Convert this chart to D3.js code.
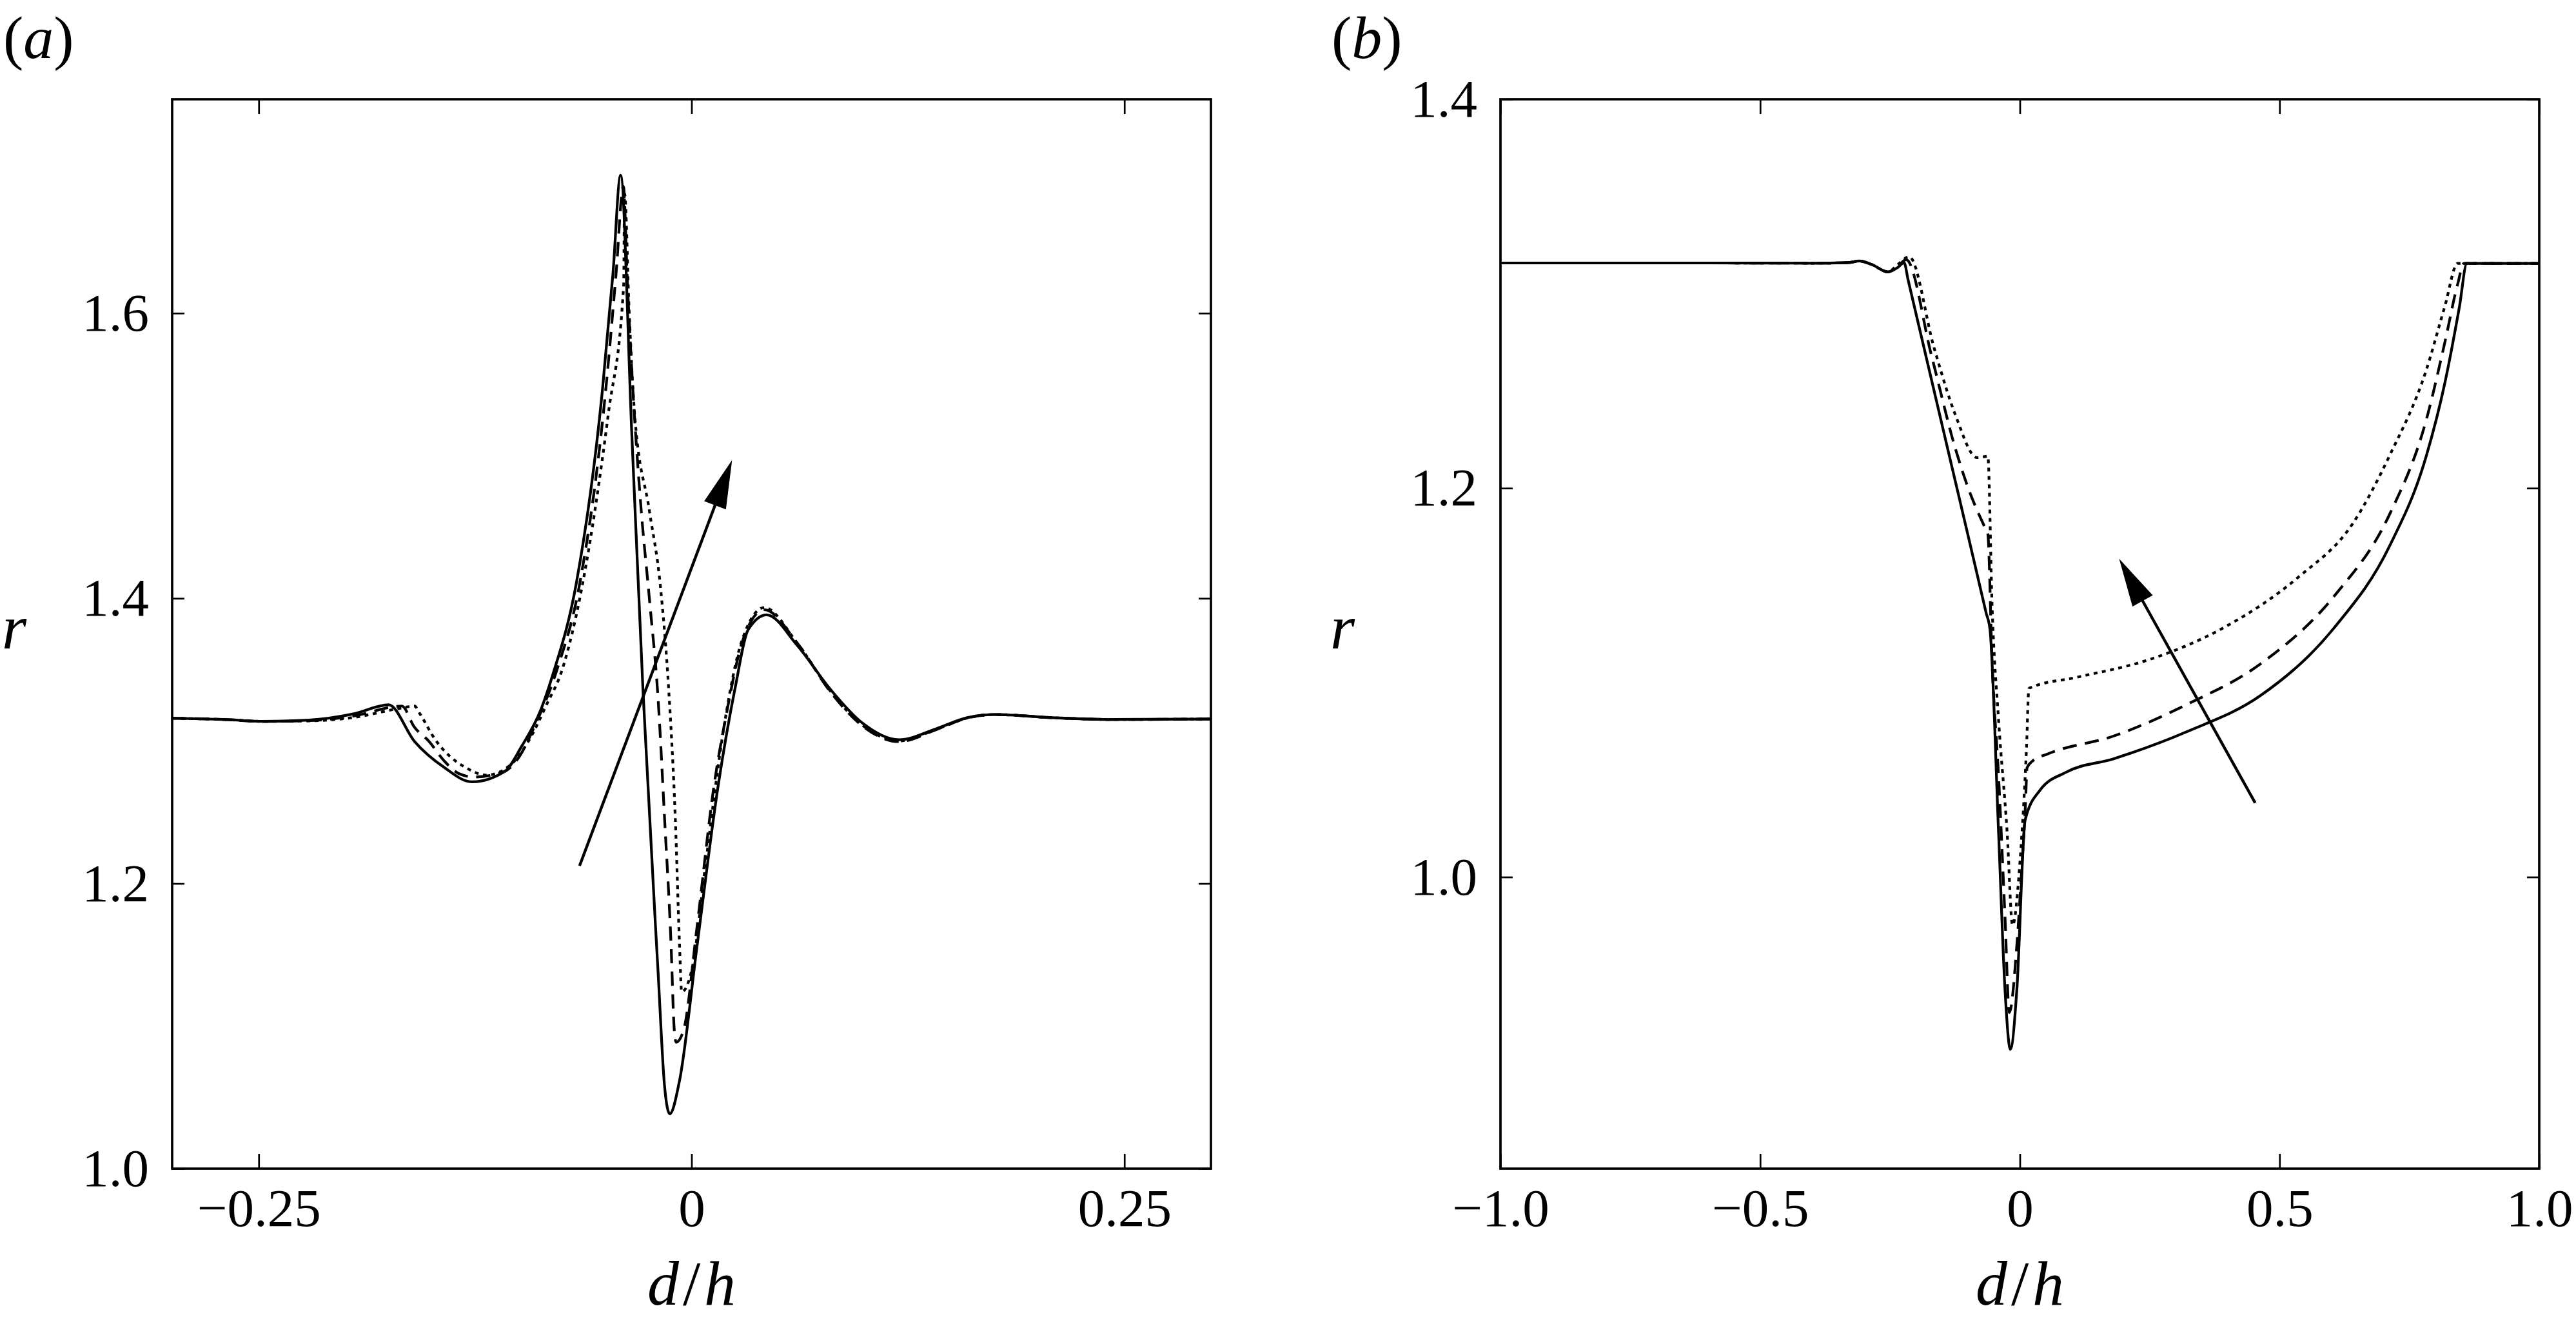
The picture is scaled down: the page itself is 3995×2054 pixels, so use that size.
<!DOCTYPE html>
<html lang="en">
<head>
<meta charset="utf-8">
<title>r against d/h</title>
<script src="https://cdn.jsdelivr.net/npm/d3@7"></script>
<style>
  body { margin: 0; background: #fff; }
</style>
</head>
<body>
<div id="chart"></div>
<script>
// ---- panel (a) ----
const aTicksX = [-0.25, 0, 0.25];
const aTicksY = [1.0, 1.2, 1.4, 1.6];

const aSolidX = [-0.300, -0.270, -0.247, -0.221, -0.195, -0.175, -0.160, -0.143, -0.127, -0.108, -0.098, -0.087, -0.080,
  -0.0665, -0.0516, -0.0454, -0.0410, -0.0345, -0.0280, -0.0193, -0.0156, -0.0126, -0.0069, 0.0030, 0.0153, 0.0253,
  0.0327, 0.0434, 0.0608, 0.0805, 0.0982, 0.1198, 0.1415, 0.1592, 0.175, 0.2085, 0.2439, 0.300];
const aSolidR = [1.3159, 1.3150, 1.3137, 1.3146, 1.3190, 1.3253, 1.2996, 1.2815, 1.2713, 1.2785, 1.2965, 1.3220, 1.3470,
  1.4110, 1.5445, 1.6277, 1.6967, 1.5150, 1.3340, 1.1370, 1.0580, 1.0384, 1.0620, 1.1545, 1.2680, 1.3380,
  1.3780, 1.3884, 1.3674, 1.3357, 1.3130, 1.3008, 1.3086, 1.3163, 1.3185, 1.3163, 1.3150, 1.3154];

const aDashX = [-0.300, -0.270, -0.247, -0.221, -0.195, -0.1673, -0.1603, -0.1516, -0.1429, -0.1343, -0.1256, -0.1082,
  -0.0995, -0.0908, -0.0780, -0.0645, -0.0497, -0.0436, -0.0394, -0.0370, -0.0342, -0.0293, -0.0243, -0.0193, -0.0156,
  -0.0119, -0.0100, -0.0089, -0.0045, 0.0030, 0.0129, 0.0200, 0.0300, 0.0420, 0.0608, 0.0805, 0.0982, 0.1198, 0.1415,
  0.1592, 0.175, 0.2085, 0.2439, 0.300];
const aDashR = [1.3159, 1.3150, 1.3137, 1.3142, 1.3175, 1.3244, 1.3100, 1.2996, 1.2860, 1.2770, 1.2747, 1.2785,
  1.2890, 1.3100, 1.3490, 1.4110, 1.5445, 1.6277, 1.6890, 1.6200, 1.5530, 1.4650, 1.3990, 1.3290, 1.2460,
  1.1590, 1.0976, 1.0886, 1.0976, 1.1680, 1.2680, 1.3180, 1.3720, 1.3920, 1.3690, 1.3340, 1.3110, 1.2995, 1.3080,
  1.3160, 1.3185, 1.3163, 1.3150, 1.3154];

const aDotX = [-0.300, -0.270, -0.247, -0.221, -0.195, -0.170, -0.1600, -0.1569, -0.1481, -0.1394, -0.1307, -0.1186,
  -0.1047, -0.0943, -0.0838, -0.0750, -0.0628, -0.0480, -0.0392, -0.0387, -0.0360, -0.0330, -0.0243, -0.0180, -0.0131,
  -0.0094, -0.0070, -0.0057, 0.0005, 0.0079, 0.0190, 0.0290, 0.0420, 0.0608, 0.0805, 0.0982, 0.1198, 0.1415, 0.1592,
  0.175, 0.2085, 0.2439, 0.300];
const aDotR = [1.3159, 1.3150, 1.3137, 1.3140, 1.3165, 1.3225, 1.3244, 1.3190, 1.3010, 1.2890, 1.2815, 1.2760,
  1.2830, 1.2996, 1.3253, 1.3490, 1.4110, 1.5300, 1.6200, 1.6840, 1.6000, 1.5310, 1.4610, 1.4085, 1.3340,
  1.2460, 1.1590, 1.1240, 1.1415, 1.2115, 1.3120, 1.3700, 1.3935, 1.3690, 1.3345, 1.3115, 1.3000, 1.3082, 1.3160,
  1.3185, 1.3163, 1.3150, 1.3154];

const aArrow = [[-0.0647, 1.2124], [0.0234, 1.497]];

// ---- panel (b) ----
const bTicksX = [-1.0, -0.5, 0, 0.5, 1.0];
const bTicksY = [1.0, 1.2, 1.4];

const bSolidX = [-1.000, -0.600, -0.400, -0.330, -0.309, -0.285, -0.254, -0.235, -0.223, -0.215, -0.140, -0.100,
  -0.065, -0.0575, -0.041, -0.0286, -0.0182, -0.0058, 0.0103, 0.0387, 0.0883, 0.1804, 0.3222, 0.4638, 0.6056, 0.7118,
  0.7827, 0.8181, 0.8464, 0.8607, 1.000];
const bSolidR = [1.3158, 1.3158, 1.3157, 1.3160, 1.3168, 1.3150, 1.3112, 1.3135, 1.3160, 1.3069, 1.2214, 1.1760,
  1.1359, 1.1273, 1.0230, 0.9420, 0.9114, 0.9420, 1.0294, 1.0446, 1.0538, 1.0608, 1.0748, 1.0934, 1.1283, 1.1702,
  1.2167, 1.2539, 1.2934, 1.3156, 1.3156];

const bDashX = [-1.000, -0.600, -0.400, -0.330, -0.309, -0.285, -0.254, -0.235, -0.219, -0.170, -0.1238, -0.0990,
  -0.066, -0.0617, -0.0534, -0.0410, -0.0286, -0.0203, -0.0058, 0.0046, 0.0108, 0.0139, 0.0245, 0.0529, 0.1804,
  0.3222, 0.4638, 0.6056, 0.7118, 0.7827, 0.8181, 0.8430, 0.8550, 1.000];
const bDashR = [1.3158, 1.3158, 1.3157, 1.3160, 1.3168, 1.3150, 1.3112, 1.3140, 1.3175, 1.2680, 1.2200, 1.1997,
  1.1790, 1.1765, 1.1098, 1.0520, 0.9796, 0.9303, 0.9650, 1.0085, 1.0375, 1.0562, 1.0597, 1.0632, 1.0725,
  1.0888, 1.1097, 1.1446, 1.1865, 1.2353, 1.2748, 1.3050, 1.3156, 1.3156];

const bDotX = [-1.000, -0.600, -0.400, -0.330, -0.309, -0.285, -0.254, -0.235, -0.213, -0.165, -0.1238, -0.0823,
  -0.066, -0.0617, -0.0534, -0.0410, -0.0245, -0.0140, 0.0004, 0.0128, 0.0174, 0.0220, 0.1095, 0.2513, 0.3929,
  0.5347, 0.6410, 0.7118, 0.7827, 0.8181, 0.8430, 1.000];
const bDotR = [1.3158, 1.3158, 1.3157, 1.3160, 1.3168, 1.3150, 1.3112, 1.3150, 1.3190, 1.2720, 1.2374, 1.2157,
  1.2163, 1.2165, 1.1389, 1.0809, 1.0230, 0.9752, 1.0085, 1.0665, 1.0969, 1.0975, 1.1027, 1.1120, 1.1283,
  1.1539, 1.1818, 1.2167, 1.2609, 1.2934, 1.3156, 1.3156];

const bArrow = [[0.4531, 1.0381], [0.1911, 1.1637]];

const W = 3995, H = 2054;
const FONT = "'Liberation Serif', 'Times New Roman', serif";

const svg = d3.select("#chart").append("svg")
  .attr("width", W).attr("height", H)
  .style("background", "#fff");

function zip(xs, rs) { return xs.map((d, i) => [d, rs[i]]); }

function drawPanel(p) {
  const x = d3.scaleLinear().domain(p.xDomain).range([p.left, p.right]);
  const y = d3.scaleLinear().domain(p.yDomain).range([p.bottom, p.top]);
  const g = svg.append("g");
  const fmt = d => d === 0 ? "0" : d3.format(p.xFmt)(d);

  // curves
  const line = d3.line().x(d => x(d[0])).y(d => y(d[1])).curve(d3.curveMonotoneX);
  p.series.forEach(s => {
    g.append("path")
      .datum(zip(s.x, s.r))
      .attr("d", line)
      .attr("fill", "none")
      .attr("stroke", "#000")
      .attr("stroke-width", 4.2)
      .attr("stroke-dasharray", s.dash);
  });

  // arrow
  const [x0, y0] = [x(p.arrow[0][0]), y(p.arrow[0][1])];
  const [x1, y1] = [x(p.arrow[1][0]), y(p.arrow[1][1])];
  const len = Math.hypot(x1 - x0, y1 - y0), ux = (x1 - x0) / len, uy = (y1 - y0) / len;
  const headL = 75, headW = 18;
  const bx = x1 - ux * headL, by = y1 - uy * headL;
  g.append("line")
    .attr("x1", x0).attr("y1", y0)
    .attr("x2", bx + ux * 8).attr("y2", by + uy * 8)
    .attr("stroke", "#000").attr("stroke-width", 4.4);
  g.append("path")
    .attr("d", `M${x1},${y1}L${bx - uy * headW},${by + ux * headW}L${bx + uy * headW},${by - ux * headW}Z`)
    .attr("fill", "#000");

  // axes, ticks pointing inward
  const axes = [
    [d3.axisBottom(x).tickValues(p.xTicks).tickSize(-23).tickPadding(30).tickFormat(fmt), `translate(0,${p.bottom})`],
    [d3.axisTop(x).tickValues(p.xTicks).tickSize(-23).tickFormat(""), `translate(0,${p.top})`],
    [d3.axisLeft(y).tickValues(p.yTicks).tickSize(-19).tickPadding(36).tickFormat(d3.format(".1f")), `translate(${p.left},0)`],
    [d3.axisRight(y).tickValues(p.yTicks).tickSize(-19).tickFormat(""), `translate(${p.right},0)`]
  ];
  axes.forEach(([ax, tr]) => {
    const a = g.append("g").attr("transform", tr).call(ax);
    a.select(".domain").remove();
    a.selectAll(".tick line").attr("stroke", "#000").attr("stroke-width", 2.7);
    a.selectAll(".tick text").attr("fill", "#000")
      .attr("font-family", FONT).attr("font-size", 83);
  });

  // frame
  g.append("rect")
    .attr("x", p.left).attr("y", p.top)
    .attr("width", p.right - p.left).attr("height", p.bottom - p.top)
    .attr("fill", "none").attr("stroke", "#000").attr("stroke-width", 3.7);

  // labels
  const lab = g.append("text")
    .attr("x", p.left - 262).attr("y", 90)
    .attr("font-family", FONT).attr("font-size", 94);
  lab.append("tspan").text("(");
  lab.append("tspan").attr("font-style", "italic").text(p.tag);
  lab.append("tspan").text(")");

  g.append("text")
    .attr("x", p.left - 245).attr("y", 1006)
    .attr("text-anchor", "middle")
    .attr("font-family", FONT).attr("font-size", 98).attr("font-style", "italic")
    .text("r");

  const xl = g.append("text")
    .attr("x", (p.left + p.right) / 2).attr("y", 2024)
    .attr("text-anchor", "middle")
    .attr("font-family", FONT).attr("font-size", 98).attr("font-style", "italic");
  xl.append("tspan").text("d");
  xl.append("tspan").attr("dx", 6).attr("font-style", "normal").text("/");
  xl.append("tspan").attr("dx", 6).text("h");
}

drawPanel({
  tag: "a", left: 267, right: 1878, top: 154, bottom: 1813,
  xDomain: [-0.3, 0.3], yDomain: [1.0, 1.75],
  xTicks: aTicksX, yTicks: aTicksY, xFmt: ".2f",
  arrow: aArrow,
  series: [
    { x: aSolidX, r: aSolidR, dash: null },
    { x: aDashX, r: aDashR, dash: "22,13" },
    { x: aDotX, r: aDotR, dash: "6,7" }
  ]
});

drawPanel({
  tag: "b", left: 2327, right: 3938, top: 154, bottom: 1813,
  xDomain: [-1, 1], yDomain: [0.85, 1.4],
  xTicks: bTicksX, yTicks: bTicksY, xFmt: ".1f",
  arrow: bArrow,
  series: [
    { x: bSolidX, r: bSolidR, dash: null },
    { x: bDashX, r: bDashR, dash: "22,13" },
    { x: bDotX, r: bDotR, dash: "6,7" }
  ]
});
</script>
</body>
</html>
